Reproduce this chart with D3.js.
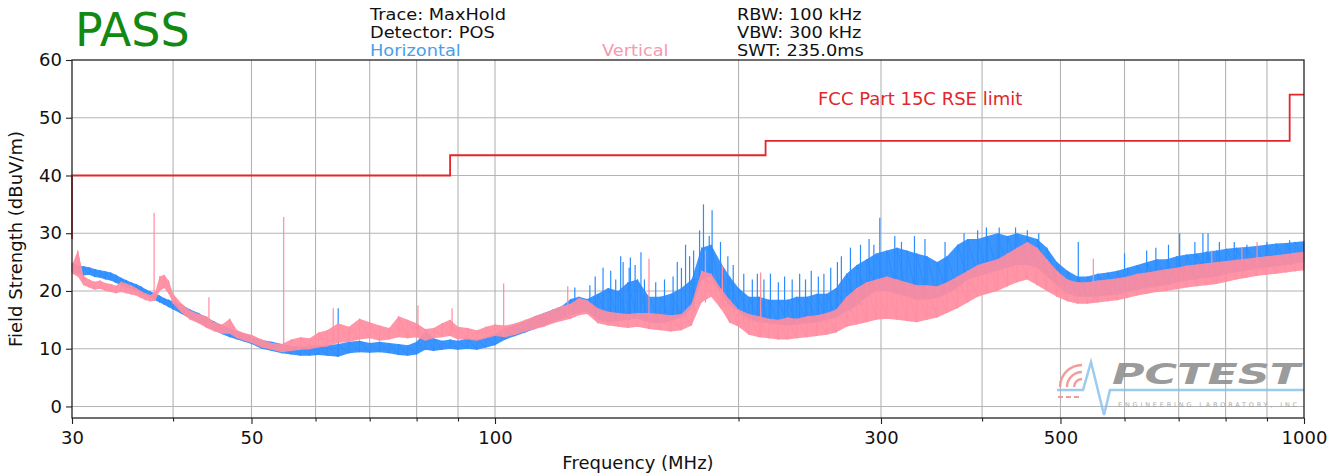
<!DOCTYPE html>
<html><head><meta charset="utf-8">
<script src="https://cdn.jsdelivr.net/npm/d3@7"></script>
<style>
body{margin:0;background:#fff;}
svg{display:block;font-family:"DejaVu Sans",sans-serif;}
</style>
</head><body>
<svg id="c" width="1340" height="474"></svg>
<script>
// ---------- data ----------
const freqs = [30,30.5,31,31.5,32,32.5,33,33.5,34,34.5,35,35.5,36,36.5,37,37.5,38,38.5,39,39.5,40,
  41,42,43,44,45,46,47,48,49,50,
  51.5,53,54.5,56,57.5,59,60.5,
  62,64,66,68,70,72,74,76,78,80,82,84,86,88,90,
  92.5,95,97.5,100,
  103,106,109,112,115,118,121,124,127,130,
  134,138,142,146,150,
  155,160,165,170,175,180,185,190,195,200,
  206,212,218,224,230,236,
  243,250,257,264,
  272,280,288,296,
  305,314,323,332,
  342,352,362,
  373,384,395,
  406,418,430,442,
  455,468,481,495,
  510,525,540,
  556,572,588,
  605,622,640,658,
  677,696,716,737,758,780,802,825,849,873,898,924,950,975,1000];

const hLow = [23.3,23.0,22.7,22.8,22.4,22.3,22.0,21.8,21.4,21.0,20.6,20.3,20.0,19.6,19.2,18.8,18.4,18.0,17.6,17.2,16.8,
  16.0,15.2,14.6,13.8,13.2,12.5,12.0,11.6,11.2,10.8,
  10.0,9.6,9.2,9.0,8.8,8.8,8.9,
  8.8,8.6,9.2,9.4,9.3,9.4,9.2,8.9,8.8,9.0,9.8,9.6,9.8,10.0,9.8,
  10.0,9.8,10.2,10.6,
  11.6,12.2,12.8,13.4,14.0,14.6,15.2,15.8,16.2,16.4,
  15.0,14.6,14.8,15.0,15.2,
  14.6,14.4,14.8,15.4,17.0,22.0,22.5,19.5,17.5,16.5,
  15.0,14.6,14.4,14.2,14.0,14.2,
  14.4,14.6,15.0,15.4,
  16.5,17.5,19.0,20.0,
  20.0,19.5,19.0,18.5,
  18.5,18.8,19.5,
  20.5,22.0,22.5,
  23.0,23.5,24.0,24.5,
  24.5,24.0,22.5,21.0,
  19.5,19.0,19.0,
  19.0,19.2,19.4,
  19.8,20.2,20.5,20.8,
  21.0,21.5,21.8,22.0,22.3,22.5,23.0,23.2,23.5,23.8,24.0,24.3,24.5,24.8,25.0];

const hHigh = [24.8,24.4,24.3,24.1,23.8,23.6,23.4,23.2,22.8,22.3,21.9,21.5,21.2,20.8,20.3,19.9,19.6,19.2,18.8,18.5,18.2,
  17.6,16.8,16.2,15.4,14.7,14.0,13.5,13.0,12.6,12.2,
  11.5,11.2,10.8,10.5,10.4,10.5,10.6,
  10.6,10.8,11.2,11.4,11.0,11.2,11.0,10.8,10.6,11.2,13.0,11.8,11.4,11.6,11.4,
  11.8,11.6,12.0,12.6,
  13.6,14.2,14.8,15.6,16.2,16.8,17.4,18.6,19.0,18.6,
  19.5,20.5,20.0,21.5,22.0,
  19.0,19.0,19.5,20.5,22.0,27.5,28.0,25.0,22.5,20.5,
  19.0,19.0,18.5,18.5,18.5,19.0,
  19.0,19.5,19.5,20.5,
  23.0,24.5,25.5,26.5,
  27.0,27.5,27.0,26.5,
  26.0,25.0,26.0,
  28.0,29.0,29.0,
  29.5,30.0,29.5,30.0,
  29.5,29.0,27.5,25.0,
  23.5,22.5,22.5,
  23.0,23.2,23.5,
  24.0,24.5,25.0,25.5,
  25.5,26.0,26.3,26.5,26.8,27.0,27.3,27.5,27.6,27.8,28.0,28.2,28.3,28.5,28.6];

const vLow = [23.0,22.5,21.0,20.6,20.2,20.4,20.0,19.8,19.6,19.8,19.6,19.4,19.2,18.8,18.4,18.2,18.3,20.0,20.5,19.5,17.8,
  16.2,15.0,14.4,13.6,13.0,12.6,12.6,11.8,11.4,11.0,
  10.2,9.8,9.4,9.6,9.8,9.9,10.2,
  10.4,11.0,11.2,11.6,11.8,11.4,11.6,12.0,11.8,12.0,11.4,11.8,12.0,12.2,11.6,
  11.6,11.4,11.8,12.2,
  12.0,12.4,13.0,13.4,13.8,14.4,14.8,15.2,15.8,16.0,
  14.4,14.0,13.8,13.6,13.8,
  13.4,13.2,13.0,13.2,14.0,18.0,19.0,17.0,14.5,13.8,
  12.4,12.0,11.8,11.6,11.6,11.8,
  12.0,12.2,12.4,12.8,
  13.8,14.2,14.6,15.0,
  15.2,15.0,14.8,14.6,
  15.0,15.4,16.2,
  17.0,18.0,19.0,
  19.5,20.0,20.8,21.5,
  22.0,21.0,20.0,19.0,
  18.2,17.8,17.8,
  18.0,18.2,18.4,
  18.8,19.2,19.5,19.8,
  20.0,20.3,20.6,20.8,21.0,21.2,21.6,22.0,22.3,22.6,22.8,23.0,23.2,23.4,23.6];

const vHigh = [24.5,27.0,22.6,22.0,21.6,21.8,21.4,21.2,20.9,21.6,21.3,21.0,20.5,20.0,19.6,19.3,19.8,22.5,22.8,21.8,19.5,
  17.8,16.6,16.0,15.6,14.6,14.2,15.2,13.2,12.7,12.4,
  11.6,11.0,10.8,11.6,12.0,11.8,12.8,
  13.2,14.4,13.8,15.2,14.6,14.0,13.6,15.6,15.0,14.4,13.4,13.6,14.4,15.0,13.8,
  13.6,13.2,13.8,14.2,
  14.0,14.4,15.0,15.6,16.2,16.8,17.4,17.8,18.8,18.4,
  17.0,16.4,16.2,16.0,16.2,
  16.2,16.0,15.8,16.0,17.8,23.5,23.0,20.5,18.5,16.8,
  16.0,15.6,15.2,15.0,15.4,15.2,
  15.6,15.8,16.2,16.8,
  19.0,20.5,21.5,22.0,
  22.5,22.0,21.5,21.0,
  21.0,20.8,21.5,
  22.5,23.5,24.5,
  25.0,25.5,26.5,27.5,
  28.5,27.5,25.5,23.5,
  22.0,21.5,21.5,
  21.8,22.0,22.2,
  22.5,23.0,23.2,23.5,
  23.8,24.0,24.4,24.6,24.8,25.0,25.2,25.4,25.6,25.8,26.0,26.2,26.4,26.6,26.8];

// isolated narrow spikes: frequency (MHz) and peak level (dBuV/m)
const hSpikeF = [64,125.5,131,133,136,139,141,143,144,146.5,147,149,151.5,153,158,162,166,168,170,172,174,176,179,181,184,185.5,190,194,197,
  203,208,211,215,219,224,228,233,238,242,246,251,255,260,265,268,275,283,290,294,299,312,318,330,340,360,380,395,405,420,440,455,470,
  526,600,639,656,680,702,733,750,761,786,820,850,900,960];
const hSpikeV = [17,20.6,21,22.5,24,23.5,22,26,25,24,25.8,24.5,26.7,22,21.5,22,22.5,25,24,28,26,27,30.5,35,29.5,34,28.5,26,24.5,
  23,22,23,22,23,21.5,22.5,22,23,22,23.5,22.5,23,24,25,26,27.5,28,29,28,32.7,29.5,28.5,29.5,29,28.5,30,30.5,31,31,31,30.5,30,
  28.5,26.5,27,27.5,28,30,28.5,30,30,28.5,28.5,28,28.5,28.8];
const vSpikeF = [37.9,44.3,54.8,63.1,80.3,88.5,102.5,123,155,182,191,213,549,769,838,875];
const vSpikeV = [33.5,18.9,32.8,17,17.5,17,21.3,20.8,25.6,27,24.5,23.2,25.6,27,27.5,28.5];

// limit line
const limitF = [30,30,88,88,216,216,960,960,1000];
const limitV = [29,40,40,43.5,43.5,46,46,54,54];
const limitLabel = "FCC Part 15C RSE limit";

// axes
const yTicks = [0,10,20,30,40,50,60];
const xMajor = [30,50,100,300,500,1000];
const xMinor = [40,60,70,80,90,200,400,600,700,800,900];
const xTitle = "Frequency (MHz)";
const yTitle = "Field Strength (dBuV/m)";

// header
const verdict = "PASS";
const headerLeft = ["Trace: MaxHold","Detector: POS"];
const headerRight = ["RBW: 100 kHz","VBW: 300 kHz","SWT: 235.0ms"];
const seriesNames = ["Horizontal","Vertical"];

// ---------- drawing ----------
const BLUE = "#2a8cff", PINK = "#ff8ca0", RED = "#e3262b";
const svg = d3.select("#c");
svg.append("rect").attr("width",1340).attr("height",474).attr("fill","#fff");

const x = d3.scaleLog().domain([30,1000]).range([72,1304]);
const y = d3.scaleLinear().domain([-2,60]).range([418,60]);

// grid
const grid = svg.append("g").attr("stroke","#b4b4b4").attr("stroke-width",1.1);
xMajor.concat(xMinor).filter(f => f>30 && f<1000).forEach(f => {
  grid.append("line").attr("x1",x(f)).attr("x2",x(f)).attr("y1",y(60)).attr("y2",y(-2));
});
yTicks.filter(v => v<60).forEach(v => {
  grid.append("line").attr("x1",x(30)).attr("x2",x(1000)).attr("y1",y(v)).attr("y2",y(v));
});

// series
function drawSeries(lo, hi, sf, sv, color){
  const g = svg.append("g");
  const pts = freqs.map((f,i)=>({f, lo:lo[i], hi:hi[i]}));
  g.append("path").datum(pts)
    .attr("d", d3.area().x(d=>x(d.f)).y0(d=>y(d.lo)).y1(d=>y(d.hi)))
    .attr("fill", color).attr("fill-opacity",0.92);
  const zig = [];
  pts.forEach(d => { zig.push([d.f,d.lo]); zig.push([d.f,d.hi]); });
  g.append("path").datum(zig)
    .attr("d", d3.line().x(d=>x(d[0])).y(d=>y(d[1])))
    .attr("fill","none").attr("stroke",color).attr("stroke-width",1).attr("stroke-opacity",0.8);
  const bis = d3.bisector(d=>d).center;
  sf.forEach((f,k) => {
    const i = bis(freqs, f);
    g.append("line").attr("x1",x(f)).attr("x2",x(f))
      .attr("y1",y(lo[i])).attr("y2",y(sv[k]))
      .attr("stroke",color).attr("stroke-width",1.2);
  });
}
drawSeries(hLow,hHigh,hSpikeF,hSpikeV,BLUE);
drawSeries(vLow,vHigh,vSpikeF,vSpikeV,PINK);

// limit
svg.append("path").datum(limitF.map((f,i)=>[f,limitV[i]]))
  .attr("d", d3.line().x(d=>x(d[0])).y(d=>y(d[1])))
  .attr("fill","none").attr("stroke",RED).attr("stroke-width",1.8);
svg.append("text").attr("x",818).attr("y",105).attr("font-size",18).attr("fill",RED).text(limitLabel);

// logo watermark
const logo = svg.append("g").attr("opacity",0.85);
logo.append("path").attr("d","M1057,390 L1083,390 L1091,362 L1104,415 L1110,390 L1304,390")
  .attr("fill","none").attr("stroke","#8cc2ea").attr("stroke-width",2.5);
[8,15,22].forEach(r => {
  const a = d3.arc().innerRadius(r-1.2).outerRadius(r+1.2).startAngle(-Math.PI/2).endAngle(0);
  logo.append("path").attr("d",a()).attr("transform","translate(1082,387)").attr("fill","#f08c8c");
});
logo.append("path").attr("d","M1058,397 h5 M1066,397 h5 M1074,397 h5").attr("stroke","#f08c8c").attr("stroke-width",2);
logo.append("text").attr("x",1112).attr("y",384).attr("font-size",29).attr("font-weight","bold")
  .attr("font-style","italic").attr("fill","#8a8a8a").attr("textLength",188).attr("lengthAdjust","spacingAndGlyphs").text("PCTEST");
logo.append("text").attr("x",1118).attr("y",407).attr("font-size",6.5).attr("fill","#9a9a9a")
  .attr("textLength",184).attr("lengthAdjust","spacing").text("ENGINEERING LABORATORY, INC.");

// axes
const ax = svg.append("g").attr("transform",`translate(0,${y(-2)})`)
  .call(d3.axisBottom(x).tickValues(xMajor).tickFormat(d3.format("d")).tickSize(6).tickPadding(7));
const axm = svg.append("g").attr("transform",`translate(0,${y(-2)})`)
  .call(d3.axisBottom(x).tickValues(xMinor).tickFormat("").tickSize(3.5));
const ay = svg.append("g").attr("transform",`translate(${x(30)},0)`)
  .call(d3.axisLeft(y).tickValues(yTicks).tickSize(6).tickPadding(4));
[ax,axm,ay].forEach(g => {
  g.select(".domain").remove();
  g.selectAll("line").attr("stroke","#222").attr("stroke-width",1.1);
  g.selectAll("text").attr("font-family","DejaVu Sans").attr("font-size",18).attr("fill","#111");
});
svg.append("rect").attr("x",x(30)).attr("y",y(60)).attr("width",x(1000)-x(30)).attr("height",y(-2)-y(60))
  .attr("fill","none").attr("stroke","#222").attr("stroke-width",1.3);

// titles
svg.append("text").attr("x",638).attr("y",469).attr("text-anchor","middle").attr("font-size",18).attr("fill","#111").text(xTitle);
svg.append("text").attr("transform","translate(22,239) rotate(-90)").attr("text-anchor","middle")
  .attr("font-size",18).attr("fill","#111").text(yTitle);

// header (compact font, stretched horizontally to the reference widths)
svg.append("text").attr("x",75).attr("y",46).attr("font-size",46).attr("fill","#138813").text(verdict);
function headerText(t, xp, yp, color){
  const el = svg.append("text").attr("x",xp).attr("y",yp).attr("font-size",15.2).attr("fill",color).text(t);
  const w = el.node().getComputedTextLength();
  el.attr("textLength", w*1.17).attr("lengthAdjust","spacingAndGlyphs");
}
headerLeft.forEach((t,i)=> headerText(t, 370, 19.5+18*i, "#111"));
headerRight.forEach((t,i)=> headerText(t, 737, 19.5+18*i, "#111"));
headerText(seriesNames[0], 370, 55.5, "#4a9ee8");
headerText(seriesNames[1], 602, 55.5, "#f59ab0");
</script>
</body></html>
